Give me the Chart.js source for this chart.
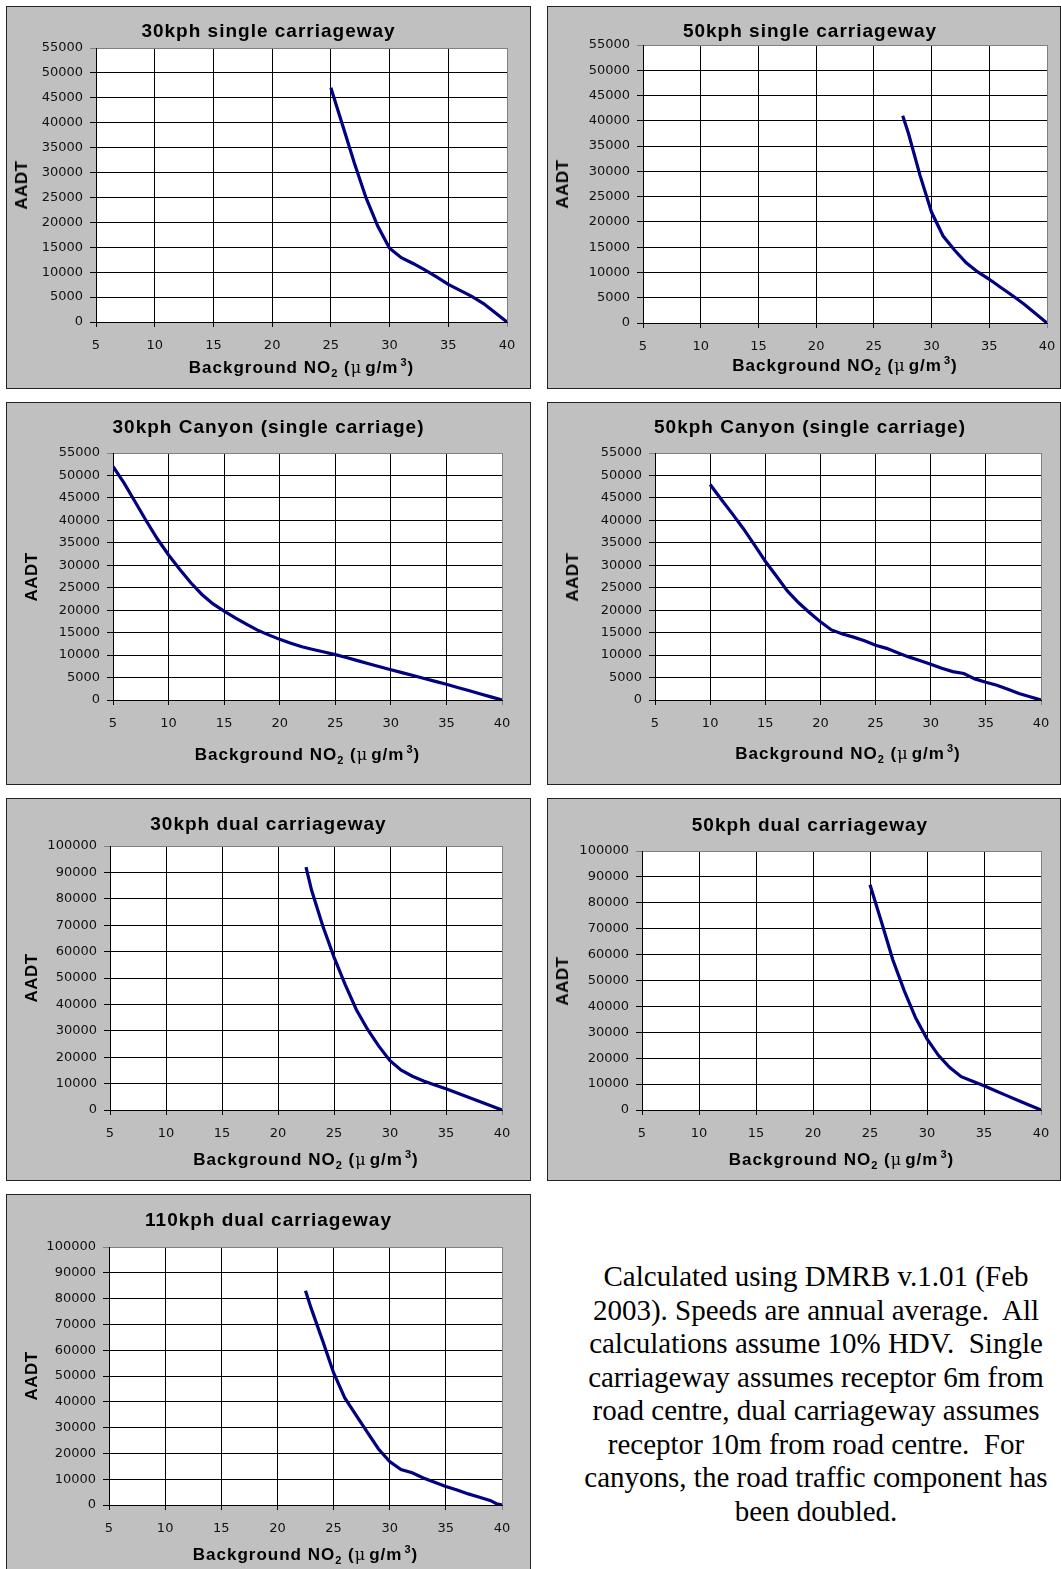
<!DOCTYPE html>
<html>
<head>
<meta charset="utf-8">
<script src="https://cdn.jsdelivr.net/npm/chart.js@4.4.1/dist/chart.umd.min.js"></script>
<style>
  body { margin: 0; background: #fff; width: 1061px; height: 1569px; position: relative; overflow: hidden;
         font-family: 'Liberation Sans', Arial, sans-serif; }
  .panel { position: absolute; background: #c0c0c0; border: 1px solid #222; box-sizing: border-box; }
  .panel canvas { position: absolute; left: 0; top: 0; }
  .lbl { position: absolute; white-space: nowrap; font-weight: bold; color: #000; transform: translate(-50%, -50%); }
  .ttl { font-size: 19px; letter-spacing: 1px; }
  .xt { font-size: 17px; letter-spacing: 1px; }
  .yt { font-size: 17px; letter-spacing: 0.5px; transform: translate(-50%, -50%) rotate(-90deg); }
  .xt sub, .xt sup { font-size: 11px; line-height: 0; }
  .xt sub { vertical-align: -4px; }
  .xt sup { vertical-align: 7px; margin-left: 2px; }
  .mu { font-weight: normal; font-family: 'DejaVu Serif', serif; font-size: 16px; margin-right: 3px; }
  .note { position: absolute; left: 566px; top: 1260px; width: 500px; text-align: center;
          font-family: 'Liberation Serif', 'Times New Roman', serif; font-size: 29px; line-height: 33.5px; color: #000; }
</style>
</head>
<body>

<div class="panel" id="p1" style="left:6px;top:6px;width:525px;height:383px"><canvas></canvas></div>
<div class="panel" id="p2" style="left:547px;top:6px;width:514px;height:383px"><canvas></canvas></div>
<div class="panel" id="p3" style="left:6px;top:402px;width:525px;height:383px"><canvas></canvas></div>
<div class="panel" id="p4" style="left:547px;top:402px;width:514px;height:383px"><canvas></canvas></div>
<div class="panel" id="p5" style="left:6px;top:798px;width:525px;height:383px"><canvas></canvas></div>
<div class="panel" id="p6" style="left:547px;top:798px;width:514px;height:383px"><canvas></canvas></div>
<div class="panel" id="p7" style="left:6px;top:1194px;width:525px;height:383px"><canvas></canvas></div>

<div class="note">Calculated using DMRB v.1.01 (Feb<br>2003). Speeds are annual average.&nbsp; All<br>calculations assume 10% HDV.&nbsp; Single<br>carriageway assumes receptor 6m from<br>road centre, dual carriageway assumes<br>receptor 10m from road centre.&nbsp; For<br>canyons, the road traffic component has<br>been doubled.</div>

<script>
// --- data: background NO2 (x) vs AADT (y) ---
var x30Single = [25, 26, 27, 28, 29, 30, 31, 32, 33, 34, 35, 36, 37, 38, 39, 40];
var aadt30Single = [47000, 39500, 31900, 24900, 19200, 14800, 12900, 11750, 10450, 9050, 7550, 6350, 5150, 3700, 1850, 0];

var x50Single = [27.5, 28, 29, 30, 31, 32, 33, 34, 35, 36, 37, 38, 39, 40];
var aadt50Single = [41000, 37500, 29200, 21900, 17200, 14400, 11900, 10100, 8650, 7030, 5430, 3780, 1890, 0];

var x30Canyon = [5, 6, 7, 8, 9, 10, 11, 12, 13, 14, 15, 16, 17, 18, 19, 20, 21, 22, 23, 24, 25, 26, 27, 28, 29, 30, 31, 32, 33, 34, 35, 36, 37, 38, 39, 40];
var aadt30Canyon = [52000, 48300, 44100, 39850, 35850, 32300, 29100, 26100, 23500, 21400, 19800, 18300, 16900, 15550, 14500, 13500, 12650, 11850, 11250, 10700, 10100, 9450, 8770, 8080, 7400, 6750, 6100, 5450, 4800, 4150, 3500, 2800, 2100, 1400, 700, 0];

var x50Canyon = [10, 11, 12, 13, 14, 15, 16, 17, 18, 19, 20, 21, 22, 23, 24, 25, 26, 27, 28, 29, 30, 31, 32, 33, 34, 35, 36, 37, 38, 39, 40];
var aadt50Canyon = [48000, 44700, 41500, 38200, 34600, 30900, 27600, 24300, 21700, 19500, 17400, 15600, 14700, 14000, 13200, 12200, 11500, 10500, 9600, 8800, 7950, 7050, 6330, 5900, 4700, 3950, 3300, 2400, 1430, 710, 0];

var x30Dual = [22.5, 23, 24, 25, 26, 27, 28, 29, 30, 31, 32, 33, 34, 35, 36, 37, 38, 39, 40];
var aadt30Dual = [92000, 83200, 69700, 57900, 47500, 38000, 30500, 24200, 18700, 15100, 12800, 11000, 9500, 8050, 6400, 4800, 3200, 1600, 0];

var x50Dual = [25, 26, 27, 28, 29, 30, 31, 32, 33, 34, 35, 36, 37, 38, 39, 40];
var aadt50Dual = [87000, 72700, 58000, 46100, 35600, 27400, 21100, 16400, 12850, 11100, 9350, 7450, 5550, 3700, 1850, 0];

var x110Dual = [22.5, 23, 24, 25, 26, 27, 28, 29, 30, 31, 32, 33, 34, 35, 36, 37, 38, 39, 39.5, 40];
var aadt110Dual = [83000, 76300, 64000, 51300, 41500, 34800, 28200, 21700, 16800, 13700, 12500, 10500, 8800, 7200, 5800, 4300, 3000, 1700, 500, 0];

var titles = ['30kph single carriageway', '50kph single carriageway', '30kph Canyon (single carriage)',
              '50kph Canyon (single carriage)', '30kph dual carriageway', '50kph dual carriageway', '110kph dual carriageway'];
var xMin = 5, xMax = 40, xStep = 5;

// layout: panel box [x, y, w, h], plot area [left, top, right, bottom], title / x-title centre y (page coords)
var panels = [
  { id: 'p1', xs: x30Single,  ys: aadt30Single,  yMax: 55000,  yStep: 5000,  box: [6, 6, 525, 383],     plot: [96, 48, 507, 322],    titleY: 31,   xTitleY: 368 },
  { id: 'p2', xs: x50Single,  ys: aadt50Single,  yMax: 55000,  yStep: 5000,  box: [547, 6, 514, 383],   plot: [643, 45, 1047, 323],  titleY: 31,   xTitleY: 366 },
  { id: 'p3', xs: x30Canyon,  ys: aadt30Canyon,  yMax: 55000,  yStep: 5000,  box: [6, 402, 525, 383],   plot: [113, 453, 502, 700],  titleY: 427,  xTitleY: 755 },
  { id: 'p4', xs: x50Canyon,  ys: aadt50Canyon,  yMax: 55000,  yStep: 5000,  box: [547, 402, 514, 383], plot: [655, 453, 1041, 700], titleY: 427,  xTitleY: 754 },
  { id: 'p5', xs: x30Dual,    ys: aadt30Dual,    yMax: 100000, yStep: 10000, box: [6, 798, 525, 383],   plot: [110, 846, 502, 1110], titleY: 824,  xTitleY: 1160 },
  { id: 'p6', xs: x50Dual,    ys: aadt50Dual,    yMax: 100000, yStep: 10000, box: [547, 798, 514, 383], plot: [642, 851, 1041, 1110], titleY: 825, xTitleY: 1160 },
  { id: 'p7', xs: x110Dual,   ys: aadt110Dual,   yMax: 100000, yStep: 10000, box: [6, 1194, 525, 383],  plot: [109, 1247, 502, 1505], titleY: 1220, xTitleY: 1555 }
];

// white plot area behind the grid
var plotBackground = {
  id: 'plotBackground',
  beforeDraw: function (chart) {
    var a = chart.chartArea, c = chart.ctx;
    c.save();
    c.fillStyle = '#ffffff';
    c.fillRect(a.left, a.top, a.right - a.left, a.bottom - a.top);
    c.restore();
  }
};

function addLabel(cls, html, x, y) {
  var el = document.createElement('div');
  el.className = 'lbl ' + cls;
  el.innerHTML = html;
  el.style.left = x + 'px';
  el.style.top = y + 'px';
  document.body.appendChild(el);
}

function makeChart(p, title) {
  var canvas = document.querySelector('#' + p.id + ' canvas');
  var ox = p.box[0] + 1, oy = p.box[1] + 1;
  var w = p.box[2] - 2, h = p.box[3] - 2;
  canvas.width = w; canvas.height = h;
  canvas.style.width = w + 'px'; canvas.style.height = h + 'px';

  var yAxisWidth = p.plot[0] - ox;
  var xAxisHeight = (oy + h) - p.plot[3];
  var padTop = p.plot[1] - oy;
  var padRight = (ox + w) - p.plot[2];

  var pts = [];
  for (var i = 0; i < p.xs.length; i++) pts.push({ x: p.xs[i], y: p.ys[i] });

  var tickFont = { family: "'DejaVu Sans', Verdana, sans-serif", size: 13 };

  new Chart(canvas, {
    type: 'line',
    data: {
      datasets: [{
        data: pts,
        borderColor: '#000080',
        borderWidth: 3.2,
        pointRadius: 0,
        tension: 0,
        fill: false
      }]
    },
    options: {
      responsive: false,
      animation: false,
      events: [],
      layout: { padding: { top: padTop, right: padRight, left: 0, bottom: 0 } },
      plugins: { legend: { display: false }, tooltip: { enabled: false } },
      scales: {
        x: {
          type: 'linear', min: xMin, max: xMax,
          ticks: { stepSize: xStep, color: '#111', font: tickFont, padding: 11, maxRotation: 0, autoSkip: false },
          grid: { color: function (ctx) { return ctx.tick && ctx.tick.value === xMax ? '#808080' : '#000'; }, tickLength: 5 },
          border: { color: '#000', width: 1 },
          afterFit: function (s) { s.height = xAxisHeight; s.paddingLeft = 0; s.paddingRight = 0; }
        },
        y: {
          min: 0, max: p.yMax,
          ticks: { stepSize: p.yStep, color: '#111', font: tickFont, padding: 7, autoSkip: false,
                   callback: function (v) { return String(v); } },
          grid: { color: function (ctx) { return ctx.tick && ctx.tick.value === p.yMax ? '#808080' : '#000'; }, tickLength: 6 },
          border: { color: '#000', width: 1 },
          afterFit: function (s) { s.width = yAxisWidth; s.paddingTop = 0; s.paddingBottom = 0; }
        }
      }
    },
    plugins: [plotBackground]
  });

  var plotCx = (p.plot[0] + p.plot[2]) / 2;
  var plotCy = (p.plot[1] + p.plot[3]) / 2;
  addLabel('ttl', title, p.box[0] + p.box[2] / 2 + (p.box[0] > 300 ? 6 : 0), p.titleY);
  addLabel('xt', 'Background NO<sub>2</sub> (<span class="mu">μ</span>g/m<sup>3</sup>)', plotCx, p.xTitleY);
  addLabel('yt', 'AADT', p.box[0] + (p.plot[0] - p.box[0] > 100 ? 26 : 16), plotCy);
}

for (var k = 0; k < panels.length; k++) makeChart(panels[k], titles[k]);
</script>
</body>
</html>
